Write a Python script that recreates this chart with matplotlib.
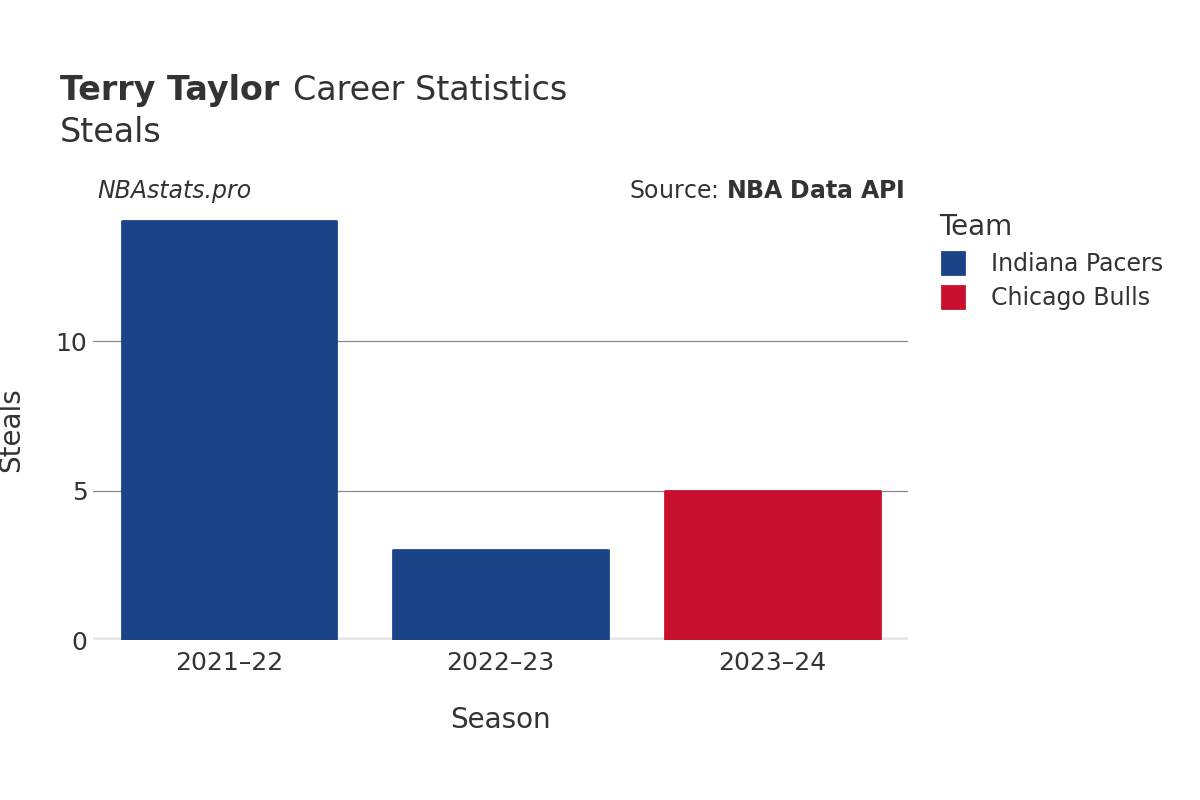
import matplotlib
matplotlib.use("Agg")
import matplotlib.pyplot as plt
from matplotlib.patches import FancyBboxPatch
from matplotlib.lines import Line2D

seasons = ["2021–22", "2022–23", "2023–24"]
steals = [14, 3, 5]
teams = ["Indiana Pacers", "Indiana Pacers", "Chicago Bulls"]
team_colors = {"Indiana Pacers": "#1b4388", "Chicago Bulls": "#c8102e"}
yticks = [0, 5, 10]

fig = plt.figure(figsize=(12, 8), dpi=100)
ax = fig.add_axes([0.0775, 0.2, 0.6792, 0.525])
x = list(range(len(seasons)))
cols = [team_colors[t] for t in teams]
ax.bar(x, steals, width=0.79, color=cols, edgecolor=cols, linewidth=2, joinstyle="round", zorder=3)
ax.set_xlim(-0.5, 2.5)
ax.set_ylim(0, 14.05)
ax.set_yticks(yticks)
ax.set_xticks(x)
ax.set_xticklabels(seasons)
for s in ax.spines.values():
    s.set_visible(False)
ax.grid(axis="y", color="#888888", linewidth=0.9, zorder=0)
ax.axhline(0, color="#e8e8e8", linewidth=4, zorder=2)
ax.tick_params(axis="y", length=0, labelsize=18, labelcolor="#333333", pad=4)
ax.tick_params(axis="x", length=0, labelsize=18, labelcolor="#333333", pad=8)
ax.set_xlabel("Season", fontsize=20, color="#333333", labelpad=22)
ax.set_ylabel("Steals", fontsize=20, color="#333333", labelpad=22)

fig.text(0.05, 0.875, "Terry Taylor", fontsize=24, fontweight="bold", color="#333333", va="baseline")
fig.text(0.2445, 0.875, "Career Statistics", fontsize=24, color="#333333", va="baseline")
fig.text(0.05, 0.823, "Steals", fontsize=24, color="#333333", va="baseline")
fig.text(0.081, 0.752, "NBAstats.pro", fontsize=17, style="italic", color="#333333", va="baseline")
fig.text(0.754, 0.752, "Source: $\\bf{NBA\\ Data\\ API}$", fontsize=17, color="#333333", va="baseline", ha="right")

handles = [Line2D([], [], marker="s", linestyle="none", markersize=16, markerfacecolor=c,
                  markeredgecolor=c, markeredgewidth=2, label=t) for t, c in team_colors.items()]
leg = fig.legend(handles=handles, loc="upper left", bbox_to_anchor=(0.765, 0.76), title="Team",
                 frameon=False, fontsize=17, title_fontsize=20, handlelength=1.2,
                 labelspacing=0.45, handletextpad=1.0, alignment="left")
for t in leg.get_texts():
    t.set_color("#333333")
leg.get_title().set_color("#333333")
fig.savefig("out.png")
